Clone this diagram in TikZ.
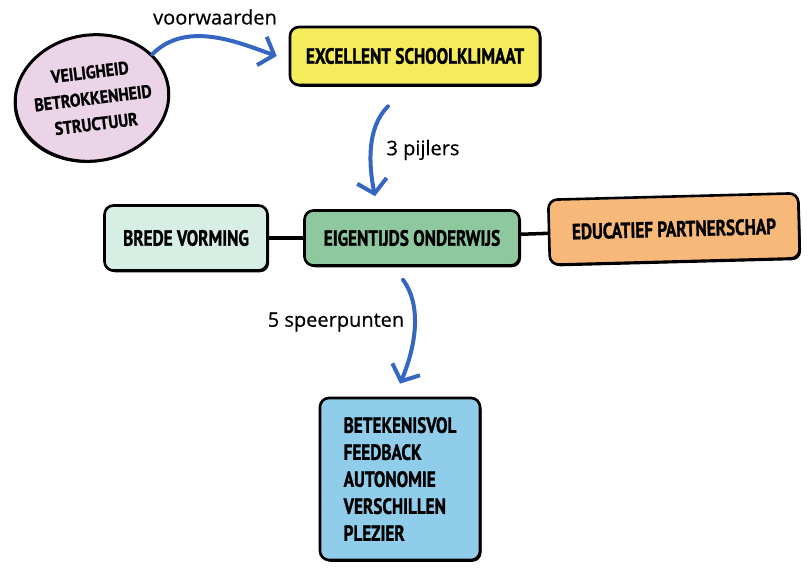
\documentclass[tikz,border=0pt]{standalone}
\usepackage{fontspec}
\newfontfamily\boxfont{PT Sans}[FakeStretch=0.78, BoldFeatures={FakeBold=1.2}]
\newfontfamily\circfont{PT Sans}[FakeStretch=0.88, BoldFeatures={FakeBold=1.2}]
\newfontfamily\labelfont{Open Sans}[FakeBold=0.5]
\usetikzlibrary{arrows.meta, shapes.geometric, shadows}
\definecolor{pinkfill}{HTML}{EBD3E8}
\definecolor{yellowfill}{HTML}{F4EC5A}
\definecolor{palegreen}{HTML}{D6EEE3}
\definecolor{midgreen}{HTML}{8DC89E}
\definecolor{orangefill}{HTML}{F7B97A}
\definecolor{bluefill}{HTML}{8FCDEB}
\definecolor{arrowblue}{HTML}{3466C2}

\begin{document}
\begin{tikzpicture}[x=1pt, y=-1pt, font=\boxfont\bfseries\fontsize{22}{27}\selectfont, box/.style={draw, line width=2.6pt, rounded corners=9pt, align=center, inner sep=4pt, drop shadow={shadow xshift=1.5pt, shadow yshift=-1.8pt, fill=black, opacity=1}}, flow/.style={draw=arrowblue, line width=4pt, line cap=round, -{Straight Barb[length=13pt, width=30pt]}}, link/.style={line width=3.5pt}, lbl/.style={font=\labelfont\fontsize{20}{24}\selectfont}]
\useasboundingbox (0,0) rectangle (809,569);
\node[draw, ellipse, line width=3pt, fill=pinkfill, minimum width=154pt, minimum height=126pt, rotate=8, drop shadow={shadow xshift=-1.5pt, shadow yshift=-1.5pt, fill=black, opacity=1}] (circ) at (92,98){};
\node[rotate=7, align=center, font=\circfont\bfseries\fontsize{18}{26}\selectfont] (circtext) at (93,98){VEILIGHEID\\BETROKKENHEID\\STRUCTUUR};
\node[box, fill=yellowfill, minimum width=250pt, minimum height=58pt] (klimaat) at (415,56){EXCELLENT SCHOOLKLIMAAT};
\node[box, fill=palegreen, minimum width=163pt, minimum height=65pt] (vorming) at (186,238){BREDE VORMING};
\node[box, fill=midgreen, minimum width=215pt, minimum height=55pt] (onderwijs) at (412,238){EIGENTIJDS ONDERWIJS};
\node[box, fill=orangefill, minimum width=250pt, minimum height=65pt, rotate=1.5] (partner) at (674,229){EDUCATIEF PARTNERSCHAP};
\node[box, fill=bluefill, minimum width=160pt, minimum height=162pt, align=left] (speerpunten) at (400,479){BETEKENISVOL\\FEEDBACK\\AUTONOMIE\\VERSCHILLEN\\PLEZIER};
\draw[link] (vorming) -- (onderwijs);
\draw[link] (onderwijs) -- (partner);
\draw[flow] (circ.28) .. controls +(35,-35) and +(-35,-12) .. ([xshift=-12pt]klimaat.west);
\draw[flow] ([shift={(-27,20)}]klimaat.south) .. controls +(-22,22) and +(-6,-30) .. ([shift={(-37,-13)}]onderwijs.north);
\draw[flow] ([shift={(-9,13)}]onderwijs.south) .. controls +(22,30) and +(12,-28) .. ([shift={(0,-13)}]speerpunten.north);
\node[lbl] (voorwaarden) at (215,17){voorwaarden};
\node[lbl] (pijlers) at (423,150){3 pijlers};
\node[lbl] (punten) at (336,322){5 speerpunten};
\end{tikzpicture}
\end{document}
